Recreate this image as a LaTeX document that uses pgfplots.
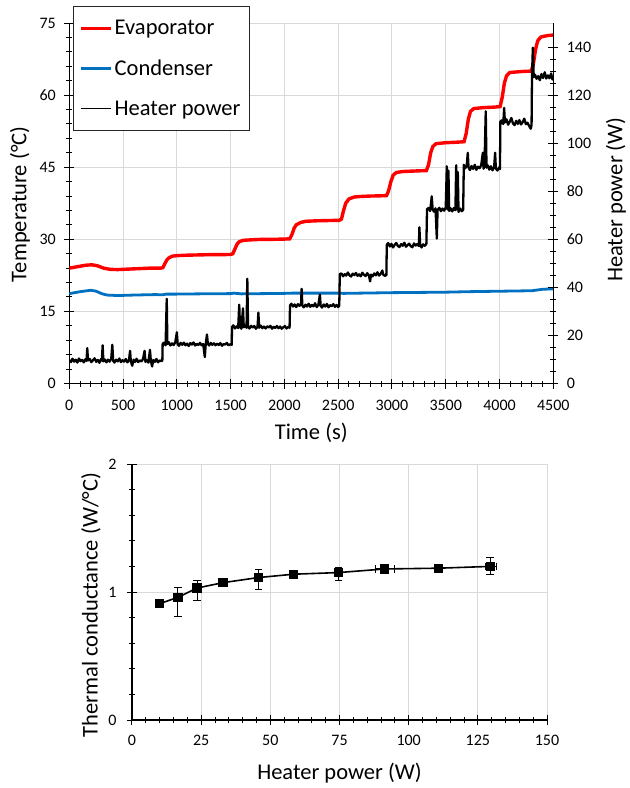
\documentclass[border=0pt]{standalone}
\usepackage{fontspec}
\setmainfont{Carlito}
\usepackage{pgfplots}
\pgfplotsset{compat=1.18}
\definecolor{evap}{RGB}{255,0,0}
\definecolor{cond}{RGB}{0,112,192}
\definecolor{gridc}{RGB}{217,217,217}
\newcommand{\lblfont}{\fontsize{22.5}{27}\selectfont}
\newcommand{\tickfont}{\fontsize{16}{19}\selectfont}

\pgfplotsset{
 common/.style={
  scale only axis,
  /pgf/number format/assume math mode=true,
  /pgf/number format/1000 sep={},
  scaled ticks=false,
  tick label style={font=\tickfont, black},
  label style={font=\lblfont},
  axis line style={black, line width=1.3pt},
  tick style={black, line width=1pt},
  tick align=center,
  major tick length=10pt,
  minor tick length=6pt,
  grid style={gridc, line width=1pt},
 }
}

\begin{document}
\begin{tikzpicture}
\path (-69.3pt,-404.5pt) rectangle (556.7pt,383.5pt);

% ---------- top panel, temperatures ----------
\begin{axis}[common, at={(0pt,0pt)}, anchor=south west, width=484pt, height=360.5pt,
 xmin=0, xmax=4500, ymin=0, ymax=75,
 axis x line*=bottom, axis y line*=left,
 xtick={0,500,...,4500}, minor x tick num=4,
 ytick={0,15,...,75}, minor y tick num=4,
 xmajorgrids, ymajorgrids,
 xlabel={Time (s)}, ylabel={Temperature (°C)},
 x label style={at={(axis description cs:0.5,-0.137)}, anchor=center},
 y label style={at={(axis description cs:-0.102,0.497)}, anchor=center},
 xticklabel style={yshift=-8pt},
 yticklabel style={xshift=-5pt},
]
\addplot[evap, line width=3.4pt] table {
t T
0 24.0
50 24.2
100 24.4
150 24.6
210 24.7
260 24.5
320 24.0
380 23.75
450 23.7
550 23.8
650 23.9
750 24.0
850 24.0
870 24.1
890 25.0
910 25.8
930 26.2
960 26.5
1000 26.6
1100 26.7
1200 26.75
1300 26.8
1400 26.8
1500 26.85
1520 27.0
1540 28.0
1560 29.0
1580 29.5
1620 29.8
1700 29.9
1800 30.0
1900 30.0
2000 30.05
2050 30.1
2070 31.0
2090 32.3
2110 33.0
2150 33.5
2200 33.75
2300 33.85
2400 33.9
2510 33.95
2530 34.2
2550 36.0
2570 37.5
2600 38.4
2650 38.8
2700 38.9
2800 39.0
2900 39.05
2950 39.1
2970 40.2
2990 42.0
3010 43.3
3040 43.9
3100 44.1
3200 44.2
3320 44.3
3340 45.5
3360 48.0
3380 49.3
3410 49.9
3500 50.1
3600 50.2
3670 50.3
3690 52.0
3710 55.0
3730 56.6
3760 57.2
3850 57.4
3950 57.5
4005 57.6
4025 59.5
4045 62.5
4065 64.0
4095 64.7
4200 64.9
4295 65.0
4315 66.5
4335 69.5
4355 71.3
4385 72.1
4450 72.4
4500 72.5
};
\addplot[cond, line width=2.8pt] table {
t T
0 18.7
50 18.9
100 19.1
200 19.4
250 19.2
300 18.7
350 18.4
450 18.3
600 18.4
800 18.5
870 18.45
900 18.6
1000 18.6
1200 18.65
1500 18.7
1530 18.8
1600 18.65
2000 18.75
2070 18.8
2500 18.8
2550 18.75
3000 18.9
3500 19.0
3700 19.1
4000 19.2
4300 19.3
4400 19.6
4500 19.7
};
\end{axis}

% ---------- top panel, heater power ----------
\begin{axis}[common, at={(0pt,0pt)}, anchor=south west, width=484pt, height=360.5pt,
 xmin=0, xmax=4500, ymin=0, ymax=150,
 axis x line=none, axis y line*=right,
 ytick={0,20,...,140}, minor y tick num=3,
 ylabel={Heater power (W)},
 y label style={at={(axis description cs:1.1295,0.51)}, anchor=center},
 yticklabel style={xshift=5pt},
 legend style={at={(axis description cs:0.007,1.047)}, anchor=north west,
   draw=black!85, line width=1pt, fill=white, font=\lblfont,
   row sep=19.5pt, inner xsep=7pt, inner ysep=12pt},
 legend cell align=left,
 legend image code/.code={\draw[#1] (0pt,0pt) -- (30pt,0pt);},
]
\addlegendimage{evap, line width=2.5pt}
\addlegendentry{Evaporator}
\addlegendimage{cond, line width=2.5pt}
\addlegendentry{Condenser}
\addlegendimage{black, line width=1.3pt}
\addlegendentry{Heater power}
\addplot[black, line width=2.3pt, line join=round, forget plot] table {
t P
0 9.8
15 8.9
30 10.3
45 9.1
60 9.9
75 8.7
90 10.4
105 9.3
120 9.8
135 8.8
150 10.1
160 9.4
167 14.7
174 9.6
190 10.2
205 8.9
220 9.7
235 10.5
250 9.0
265 9.8
280 8.6
295 10.2
303 9.5
310 15.9
317 9.2
330 10.0
345 8.8
360 9.9
375 9.1
390 10.3
400 16.1
408 9.4
420 8.7
435 9.9
450 9.2
465 10.4
480 8.9
495 9.7
510 9.1
525 10.2
540 8.8
555 9.6
565 13.6
572 9.3
585 7.4
598 9.9
612 9.0
625 10.3
640 8.9
655 9.6
670 9.2
685 10.1
700 13.6
708 9.0
720 9.7
735 8.7
750 14.0
758 9.4
770 7.1
780 9.8
795 9.0
810 10.2
825 8.8
840 9.6
855 9.3
865 9.5
868 16.5
880 17.0
895 15.9
906 35.2
912 16.4
925 17.2
940 15.8
955 16.7
970 16.0
985 17.1
1000 21.3
1008 16.2
1020 15.7
1035 16.9
1050 16.1
1065 17.0
1080 15.9
1095 16.6
1110 15.6
1125 16.8
1140 16.2
1155 17.1
1170 15.8
1185 16.5
1200 16.0
1215 16.9
1230 15.9
1245 16.4
1260 11.0
1268 16.2
1280 20.4
1288 16.6
1300 15.8
1315 16.9
1330 16.1
1345 16.7
1360 15.9
1375 16.6
1390 16.0
1405 16.8
1420 15.7
1435 16.4
1450 16.2
1465 16.9
1480 15.9
1495 16.3
1510 16.1
1513 23.5
1525 24.2
1540 22.9
1555 23.8
1570 23.1
1580 32.8
1587 23.6
1600 22.8
1615 31.3
1622 23.4
1635 24.1
1648 23.2
1655 43.6
1662 23.5
1675 22.9
1690 24.0
1705 23.3
1720 23.9
1735 22.8
1750 23.6
1758 29.5
1765 23.2
1780 24.1
1795 23.0
1810 23.7
1825 22.9
1840 23.8
1855 23.3
1870 24.0
1885 22.8
1900 23.6
1915 23.1
1930 23.9
1945 23.0
1960 23.7
1975 22.8
1990 23.4
2005 23.9
2020 22.9
2035 23.5
2048 23.2
2052 32.5
2065 33.2
2080 32.0
2095 32.9
2110 31.8
2125 33.0
2140 32.3
2155 33.1
2160 39.4
2167 32.4
2180 31.7
2195 32.8
2210 32.0
2225 33.2
2240 31.9
2255 32.7
2270 32.1
2285 33.4
2300 31.8
2315 32.6
2330 37.0
2337 32.3
2350 31.6
2365 32.9
2380 32.0
2395 33.1
2410 31.7
2425 32.6
2440 32.2
2455 33.0
2470 31.9
2485 32.7
2500 31.8
2510 32.4
2515 45.5
2530 45.8
2545 44.6
2560 45.5
2575 44.9
2590 46.2
2605 45.0
2620 44.5
2635 45.7
2650 45.1
2665 46.0
2680 44.8
2695 45.4
2710 44.6
2725 46.1
2740 45.2
2755 44.7
2770 45.9
2785 45.0
2797 42.5
2805 45.3
2820 44.6
2835 45.8
2850 45.0
2865 46.3
2880 44.9
2895 45.6
2910 47.0
2920 45.2
2935 44.8
2948 45.1
2952 57.8
2965 58.4
2980 57.0
2995 58.1
3010 56.6
3025 57.7
3040 58.5
3055 57.2
3070 56.8
3085 58.0
3100 57.3
3115 58.6
3130 56.9
3145 57.5
3160 58.2
3175 57.1
3190 56.7
3205 58.3
3220 57.4
3235 58.0
3250 57.2
3255 65.0
3262 57.8
3275 56.6
3290 57.9
3305 57.3
3320 58.1
3326 72.5
3340 73.0
3355 71.8
3370 77.9
3378 72.6
3390 71.5
3405 72.9
3417 60.3
3424 72.2
3440 73.1
3455 71.7
3470 72.8
3485 71.9
3500 73.3
3510 90.4
3517 72.4
3525 88.5
3532 71.8
3545 72.9
3560 71.6
3575 73.0
3590 72.1
3597 90.8
3604 72.5
3612 88.0
3619 71.4
3635 72.8
3650 71.7
3662 72.3
3668 91.0
3680 89.5
3695 90.7
3705 96.0
3712 89.9
3725 88.8
3740 90.5
3755 89.3
3770 91.0
3785 88.9
3800 90.2
3815 89.6
3830 90.9
3845 96.0
3852 89.4
3860 90.6
3872 113.3
3879 89.8
3890 90.8
3905 89.0
3920 90.4
3935 88.7
3950 90.1
3959 96.0
3966 89.5
3980 88.6
3995 89.9
4004 89.2
4008 109.0
4020 109.5
4035 108.0
4043 114.7
4050 108.6
4065 109.9
4080 107.7
4095 108.9
4110 110.5
4125 108.2
4140 107.5
4155 109.3
4170 108.0
4185 109.6
4200 107.8
4215 108.7
4230 110.2
4245 107.9
4260 108.5
4275 107.2
4290 106.0
4298 107.5
4302 128.0
4310 139.7
4318 127.5
4330 128.5
4345 126.8
4360 127.9
4375 126.2
4390 128.8
4405 127.1
4420 129.5
4435 126.9
4450 128.2
4465 127.0
4480 129.0
4492 126.5
4500 127.8
};
\end{axis}

% ---------- bottom panel ----------
\begin{axis}[common, at={(62.7pt,-336.5pt)}, anchor=south west, width=415pt, height=256pt,
 xmin=0, xmax=150, ymin=0, ymax=2,
 axis x line*=bottom, axis y line*=left,
 xtick={0,25,...,150}, minor x tick num=4,
 ytick={0,1,2}, minor y tick num=4,
 xmajorgrids, ymajorgrids,
 xlabel={Heater power (W)}, ylabel={Thermal conductance (W/°C)},
 x label style={at={(axis description cs:0.5,-0.207)}, anchor=center},
 y label style={at={(axis description cs:-0.0986,0.449)}, anchor=center},
 xticklabel style={yshift=-7pt},
 yticklabel style={xshift=-7pt},
]
\addplot[black, line width=1.6pt, mark=square*, mark size=3.8pt, mark options={solid},
  error bars/.cd, y dir=both, y explicit, x dir=both, x explicit,
  error bar style={line width=1pt, black}]
 table[x=x, y=y, x error plus=xp, x error minus=xm, y error plus=yp, y error minus=ym] {
x y xp xm yp ym
9.8 0.908 0 0 0.01 0.01
16.6 0.958 0 0 0.076 0.148
23.5 1.031 0 0 0.06 0.095
32.9 1.073 0 0 0.03 0.03
45.7 1.113 0 0 0.062 0.093
58.4 1.139 0 0 0.02 0.02
74.7 1.152 0 0 0.044 0.062
91.3 1.180 3.5 3.5 0.015 0.015
110.8 1.186 1 1 0.03 0.03
129.5 1.200 2 2 0.07 0.06
};
\end{axis}
\end{tikzpicture}
\end{document}
